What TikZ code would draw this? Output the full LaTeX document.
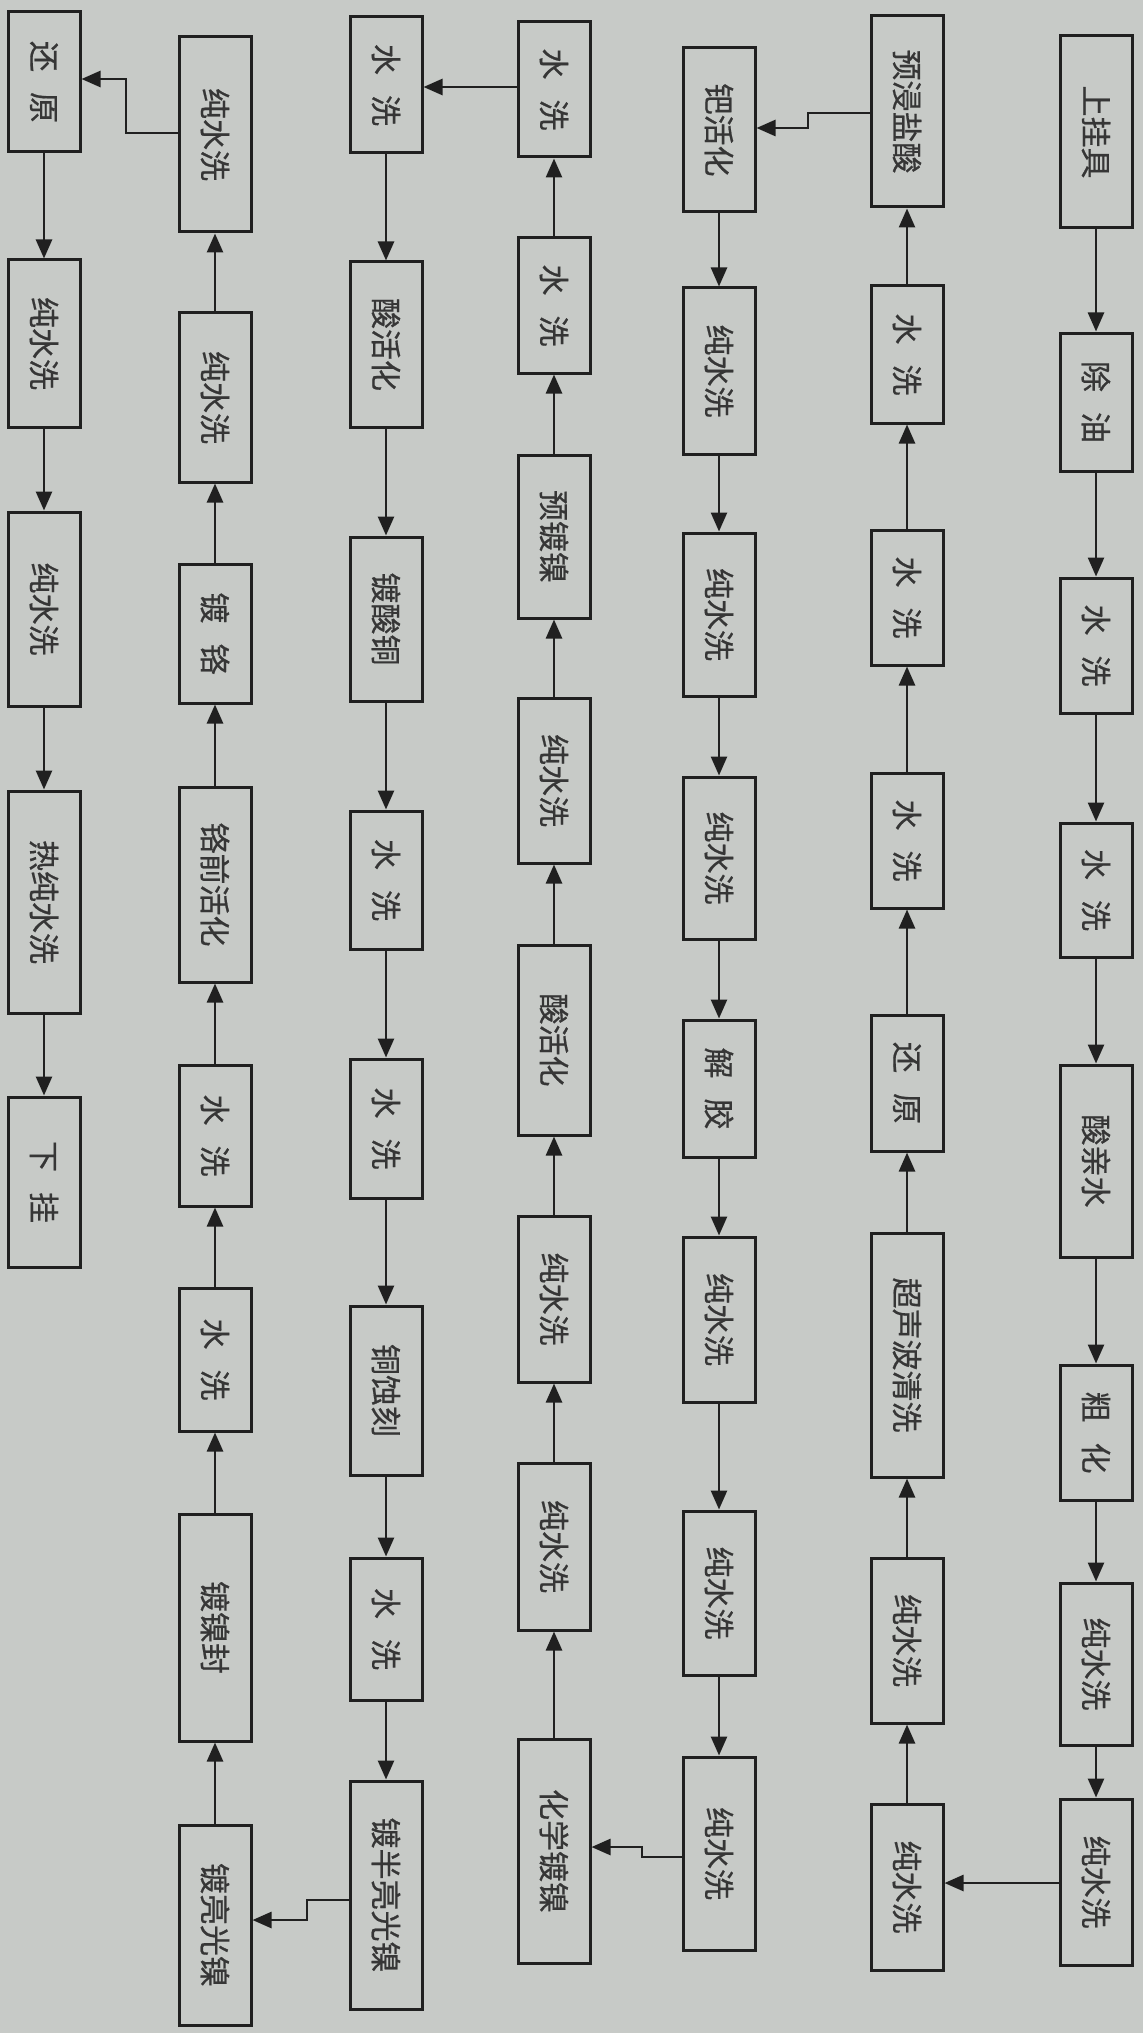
\documentclass[tikz,border=0pt]{standalone}
\usepackage{fontspec}
\usepackage{graphicx}
\newfontfamily\cjk[FakeBold=0.6]{Noto Sans CJK SC}
\usetikzlibrary{arrows.meta}
\definecolor{paper}{RGB}{199,202,199}
\definecolor{ink}{RGB}{32,32,32}
\newcommand\procbox[5]{\node[procnode, minimum height={(#4-#3)*1pt}] (#1) at (#2,{(#3+#4)/2}) {\rotatebox{-90}{#5}};}
\newcommand\cgap{\hspace{0.65em}}
\begin{document}
\begin{tikzpicture}[x=1pt,y=-1pt,
  procnode/.style={draw=ink, line width=3pt, fill=paper, minimum width=72pt, inner sep=0pt,
    font=\cjk\fontsize{31}{31}\selectfont, text=ink!90},
  arr/.style={draw=ink, line width=2.6pt, -{Triangle[length=19pt,width=16pt]}}]
\fill[paper] (0,0) rectangle (1143,2033);
\useasboundingbox (0,0) rectangle (1143,2033);
% column 1 (down)
\procbox{a1}{1096}{36}{228}{上挂具}
\procbox{a2}{1096}{333}{471}{除\cgap 油}
\procbox{a3}{1096}{578}{713}{水\cgap 洗}
\procbox{a4}{1096}{823}{957}{水\cgap 洗}
\procbox{a5}{1096}{1065}{1257}{酸亲水}
\procbox{a6}{1096}{1365}{1500}{粗\cgap 化}
\procbox{a7}{1096}{1583}{1745}{纯水洗}
\procbox{a8}{1096}{1799}{1965}{纯水洗}
% column 2 (up)
\procbox{b1}{907}{1804}{1970}{纯水洗}
\procbox{b2}{907}{1558}{1723}{纯水洗}
\procbox{b3}{907}{1233}{1477}{超声波清洗}
\procbox{b4}{907}{1015}{1151}{还\cgap 原}
\procbox{b5}{907}{773}{908}{水\cgap 洗}
\procbox{b6}{907}{530}{665}{水\cgap 洗}
\procbox{b7}{907}{286}{423}{水\cgap 洗}
\procbox{b8}{907}{16}{207}{预浸盐酸}
% column 3 (down)
\procbox{c1}{719}{48}{212}{钯活化}
\procbox{c2}{719}{288}{454}{纯水洗}
\procbox{c3}{719}{533}{696}{纯水洗}
\procbox{c4}{719}{777}{939}{纯水洗}
\procbox{c5}{719}{1020}{1157}{解\cgap 胶}
\procbox{c6}{719}{1237}{1402}{纯水洗}
\procbox{c7}{719}{1511}{1675}{纯水洗}
\procbox{c8}{719}{1757}{1950}{纯水洗}
% column 4 (up)
\procbox{d1}{554}{1739}{1963}{化学镀镍}
\procbox{d2}{554}{1463}{1630}{纯水洗}
\procbox{d3}{554}{1216}{1382}{纯水洗}
\procbox{d4}{554}{945}{1135}{酸活化}
\procbox{d5}{554}{698}{863}{纯水洗}
\procbox{d6}{554}{455}{618}{预镀镍}
\procbox{d7}{554}{238}{373}{水\cgap 洗}
\procbox{d8}{554}{22}{157}{水\cgap 洗}
% column 5 (down)
\procbox{e1}{386}{17}{153}{水\cgap 洗}
\procbox{e2}{386}{262}{427}{酸活化}
\procbox{e3}{386}{537}{701}{镀酸铜}
\procbox{e4}{386}{811}{949}{水\cgap 洗}
\procbox{e5}{386}{1059}{1198}{水\cgap 洗}
\procbox{e6}{386}{1306}{1475}{铜蚀刻}
\procbox{e7}{386}{1558}{1700}{水\cgap 洗}
\procbox{e8}{386}{1781}{2009}{镀半亮光镍}
% column 6 (up)
\procbox{f1}{215}{1825}{2025}{镀亮光镍}
\procbox{f2}{215}{1514}{1741}{镀镍封}
\procbox{f3}{215}{1288}{1431}{水\cgap 洗}
\procbox{f4}{215}{1065}{1206}{水\cgap 洗}
\procbox{f5}{215}{787}{982}{铬前活化}
\procbox{f6}{215}{564}{703}{镀\cgap 铬}
\procbox{f7}{215}{313}{482}{纯水洗}
\procbox{f8}{215}{37}{232}{纯水洗}
% column 7 (down)
\procbox{g1}{44}{12}{152}{还\cgap 原}
\procbox{g2}{44}{260}{427}{纯水洗}
\procbox{g3}{44}{512}{706}{纯水洗}
\procbox{g4}{44}{791}{1013}{热纯水洗}
\procbox{g5}{44}{1097}{1267}{下\cgap 挂}
% vertical connectors
\foreach \p/\q in {a1/a2,a2/a3,a3/a4,a4/a5,a5/a6,a6/a7,a7/a8,
  b1/b2,b2/b3,b3/b4,b4/b5,b5/b6,b6/b7,b7/b8,
  c1/c2,c2/c3,c3/c4,c4/c5,c5/c6,c6/c7,c7/c8,
  d1/d2,d2/d3,d3/d4,d4/d5,d5/d6,d6/d7,d7/d8,
  e1/e2,e2/e3,e3/e4,e4/e5,e5/e6,e6/e7,e7/e8,
  f1/f2,f2/f3,f3/f4,f4/f5,f5/f6,f6/f7,f7/f8,
  g1/g2,g2/g3,g3/g4,g4/g5}
  \draw[arr] (\p) -- (\q);
% column-to-column connectors
\coordinate (h1) at (0,1883);
\draw[arr] (a8.west |- h1) -- (b1.east |- h1);
\coordinate (j1) at (808,113);
\coordinate (j2) at (808,128);
\draw[arr] (b8.west |- j1) -- (j1) -- (j2) -- (c1.east |- j2);
\coordinate (j3) at (642,1857);
\coordinate (j4) at (642,1847);
\draw[arr] (c8.west |- j3) -- (j3) -- (j4) -- (d1.east |- j4);
\coordinate (h2) at (0,87);
\draw[arr] (d8.west |- h2) -- (e1.east |- h2);
\coordinate (j5) at (307,1900);
\coordinate (j6) at (307,1920);
\draw[arr] (e8.west |- j5) -- (j5) -- (j6) -- (f1.east |- j6);
\coordinate (j7) at (126,133);
\coordinate (j8) at (126,79);
\draw[arr] (f8.west |- j7) -- (j7) -- (j8) -- (g1.east |- j8);
\end{tikzpicture}
\end{document}
